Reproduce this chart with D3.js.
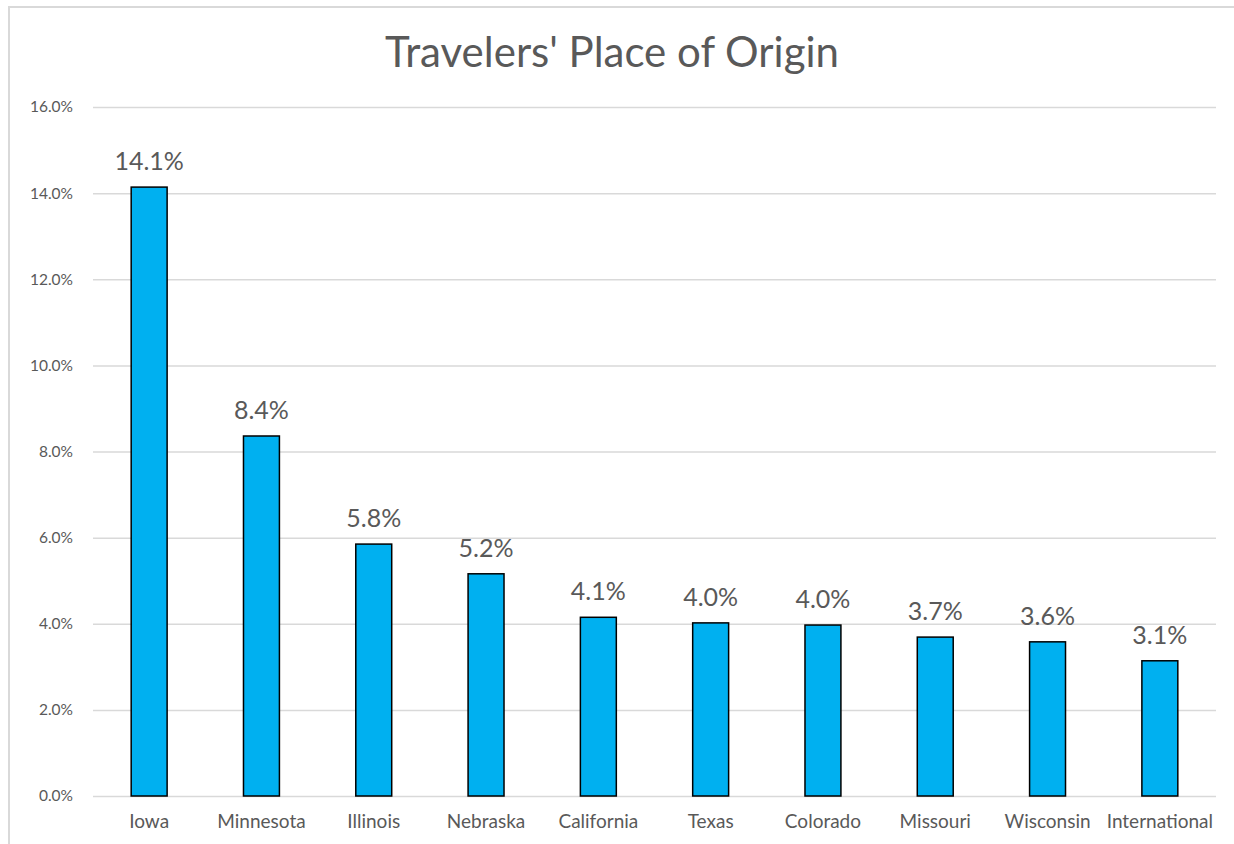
<!DOCTYPE html>
<html>
<head>
<meta charset="utf-8">
<script src="https://cdn.jsdelivr.net/npm/d3@7"></script>
<style>
  body { margin: 0; background: #fff; }
  svg { display: block; }
  svg text { font-family: Lato, "Open Sans", sans-serif; }
</style>
</head>
<body>
<svg id="chart" width="1234" height="844"></svg>
<script>
// data
var places = ['Iowa', 'Minnesota', 'Illinois', 'Nebraska', 'California',
  'Texas', 'Colorado', 'Missouri', 'Wisconsin', 'International'];
var shares = [14.14, 8.36, 5.85, 5.16, 4.15, 4.02, 3.97, 3.69, 3.58, 3.14];
var labels = ['14.1%', '8.4%', '5.8%', '5.2%', '4.1%', '4.0%', '4.0%', '3.7%', '3.6%', '3.1%'];
var yTicks = [0, 2, 4, 6, 8, 10, 12, 14, 16];

var svg = d3.select('#chart');
var grey = '#595959';

// outer frame (chart area is cropped on the right and bottom)
svg.append('path')
  .attr('d', 'M9,844 V7 H1234')
  .attr('fill', 'none')
  .attr('stroke', '#d9d9d9')
  .attr('stroke-width', 2);

var x = d3.scaleBand()
  .domain(places)
  .range([93, 1216])
  .paddingInner(0.68)
  .paddingOuter(0.34);

var y = d3.scaleLinear()
  .domain([0, 16])
  .range([796, 107]);

// gridlines + y labels
var yAxis = d3.axisLeft(y)
  .tickValues(yTicks)
  .tickSize(-(1216 - 93))
  .tickPadding(20)
  .tickFormat(function(d) { return d.toFixed(1) + '%'; });

var gy = svg.append('g')
  .attr('transform', 'translate(93,0)')
  .call(yAxis);
gy.select('.domain').remove();
gy.selectAll('.tick line').attr('stroke', '#d9d9d9').attr('stroke-width', 1.5);
gy.selectAll('.tick text')
  .attr('fill', grey)
  .attr('font-size', 15.5)
  .attr('x', -20);

// category labels
var xAxis = d3.axisBottom(x).tickSize(0).tickPadding(19);
var gx = svg.append('g')
  .attr('transform', 'translate(0,796)')
  .call(xAxis);
gx.select('.domain').remove();
gx.selectAll('.tick text')
  .attr('fill', grey)
  .attr('font-size', 19);

// bars
svg.append('g').selectAll('rect')
  .data(places)
  .enter()
  .append('rect')
  .attr('x', function(d) { return x(d); })
  .attr('y', function(d, i) { return y(shares[i]); })
  .attr('width', x.bandwidth())
  .attr('height', function(d, i) { return y(0) - y(shares[i]); })
  .attr('fill', '#00b0f0')
  .attr('stroke', '#000')
  .attr('stroke-width', 1.5);

// value labels
svg.append('g').selectAll('text')
  .data(places)
  .enter()
  .append('text')
  .attr('x', function(d) { return x(d) + x.bandwidth() / 2; })
  .attr('y', function(d, i) { return y(shares[i]) - 17; })
  .attr('text-anchor', 'middle')
  .attr('fill', grey)
  .attr('font-size', 25)
  .text(function(d, i) { return labels[i]; });

// title
svg.append('text')
  .attr('x', 612)
  .attr('y', 67)
  .attr('text-anchor', 'middle')
  .attr('fill', grey)
  .attr('font-size', 42)
  .text("Travelers' Place of Origin");
</script>
</body>
</html>
